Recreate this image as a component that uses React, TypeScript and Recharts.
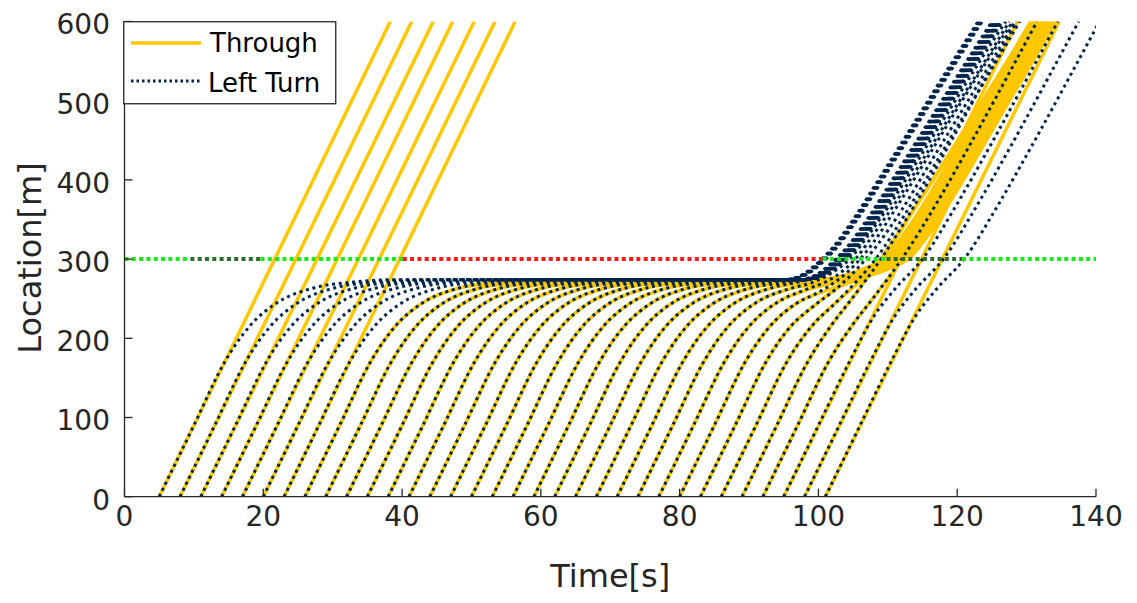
import { LineChart, Line, XAxis, YAxis } from "recharts";

const GOLD = "#FFC700";
const NAVY = "#00264D";
const INK = "#262626";
const FONT = "DejaVu Sans";
const phaseColors: Record<string, string> = { green: "#18EB18", overlap: "#2C6E2C", red: "#FF1A1A" };

// arrival times at location 0 (one through + one left-turn vehicle each)
const arrivals = [5, 8, 11, 14, 17, 20, 23, 26, 29, 32, 35, 38, 41, 44, 47, 50, 53, 56, 59, 62, 65, 68, 71, 74, 77, 80, 83, 86, 89, 92, 95, 98, 101];

// through vehicles that pass on the first green: time at 600 m
const throughFreeTop = [38.3, 41.4, 44.5, 47.3, 50.4, 53.4, 56.3];

// approach to the stop (time after arrival, location)
const approachDt = [0, 5, 9.5, 13, 17, 22, 28, 34];
const approachLoc = [0, 90, 171, 215, 245, 263, 271, 274];

// queued left turns: time they start moving again, then exit curve
const leftRelease = [95.0, 95.1, 95.2, 95.3, 95.4, 95.5, 95.6, 97.0, 97.1, 97.2, 97.3, 97.4, 97.5, 97.6, 97.7, 97.8, 97.9, 98.0, 98.1, 98.2, 98.3, 98.4, 98.5];
const leftExitDt = [0, 3, 5, 7, 10, 14, 19, 24, 28];
const leftExitLoc = [274, 282, 296, 314, 350, 405, 475, 545, 600];

// queued through vehicles (arrivals 26..74)
const throughRelease = [99.6, 99.8, 100.1, 100.3, 100.5, 100.7, 100.9, 101.2, 101.4, 101.6, 101.8, 102.1, 102.3, 102.5, 102.7, 102.9, 103.2];
const throughExitDt = [0, 4, 7, 10, 13, 17, 22, 27, 31];
const throughExitLoc = [274, 279, 288, 302, 335, 390, 465, 540, 600];

// late left turns (arrivals 74..101)
const leftLate: number[][][] = [
  [[74, 0], [79, 90], [83.5, 171], [87, 215], [91, 245], [96, 263], [99, 270], [102, 283], [104.5, 300], [107, 328], [110, 365], [114, 420], [119, 490], [124, 560], [127, 600]],
  [[77, 0], [82, 90], [86.5, 171], [90, 215], [94, 245], [98, 261], [101, 271], [103.5, 285], [105.5, 302], [108, 332], [111, 370], [115, 425], [120, 495], [124.5, 557], [127.5, 600]],
  [[80, 0], [85, 90], [89.5, 171], [93, 215], [97, 245], [100, 258], [103, 275], [105.5, 295], [108, 322], [111, 362], [115, 418], [120, 490], [124.5, 553], [128, 600]],
  [[83, 0], [88, 90], [92.5, 171], [96, 215], [99.5, 242], [102.5, 262], [105.5, 287], [108.5, 318], [112, 362], [116, 420], [121, 492], [125, 550], [128.3, 600]],
  [[86, 0], [91, 90], [95.5, 171], [99, 215], [102.5, 245], [105.5, 272], [108.5, 303], [112, 350], [116, 408], [121, 482], [126, 555], [129, 600]],
  [[89, 0], [94, 90], [98.5, 171], [102, 218], [105, 252], [109, 300], [114, 370], [119, 447], [124, 527], [128.5, 600]],
  [[92, 0], [97, 90], [101.5, 171], [105, 218], [108, 252], [112, 300], [117, 370], [122, 447], [127, 527], [131.5, 600]],
  [[95, 0], [100, 90], [104.5, 171], [108, 228], [111, 262], [115, 300], [120, 370], [125, 447], [130, 527], [134.5, 600]],
  [[98, 0], [103, 90], [107.5, 171], [111, 228], [114, 262], [118, 300], [123, 370], [128, 447], [133, 527], [137.5, 600]],
  [[101, 0], [106, 90], [110.5, 171], [114, 228], [117, 262], [121, 300], [126, 370], [131, 447], [136, 527], [140.5, 600]],
];

// late through vehicles (arrivals 77..101); the last three never stop
const throughLate: number[][][] = [
  [[77, 0], [82, 90], [86.5, 171], [90, 215], [94, 245], [99, 263], [103, 271], [107, 280], [110, 292], [113, 315], [116, 352], [120, 410], [125, 485], [130, 560], [133, 600]],
  [[80, 0], [85, 90], [89.5, 171], [93, 215], [97, 245], [101, 260], [105, 272], [108, 284], [111, 302], [114, 340], [118, 398], [123, 473], [128, 548], [131.5, 600]],
  [[83, 0], [88, 90], [92.5, 171], [96, 215], [99.5, 242], [102.5, 262], [106, 280], [109, 300], [114, 366], [119, 435], [124, 505], [130.8, 600]],
  [[86, 0], [91, 90], [95.5, 171], [99, 215], [102.5, 245], [105.5, 268], [108.5, 290], [111, 310], [115, 360], [120, 430], [125, 505], [131, 600]],
  [[89, 0], [94, 90], [98.5, 171], [102, 218], [105, 252], [109, 300], [114, 366], [119, 433], [124, 500], [131.6, 600]],
  [[92, 0], [97, 90], [101.5, 171], [105, 218], [108, 252], [112, 300], [117, 374], [122, 448], [127, 522], [132.3, 600]],
  [[95, 0], [128.7, 600]],
  [[98, 0], [131.7, 600]],
  [[101, 0], [134.7, 600]],
];

// signal at the stop line (300 m)
const signalLoc = 300;
const phaseStart = [0, 9.5, 19.6, 40.1, 100.6, 109.8, 120.7];
const phaseEnd = [9.5, 19.6, 40.1, 100.6, 109.8, 120.7, 140];
const phaseKind = ["green", "overlap", "green", "red", "green", "overlap", "green"];

const xTicks = [0, 20, 40, 60, 80, 100, 120, 140];
const yTicks = [0, 100, 200, 300, 400, 500, 600];

type Pt = { t: number; loc: number };

const shift = (dts: number[], locs: number[], t0: number): Pt[] =>
  dts.map((d, k) => ({ t: t0 + d, loc: locs[k] }));

const queued = (t0: number, release: number, exitDt: number[], exitLoc: number[]): Pt[] => [
  ...shift(approachDt, approachLoc, t0).filter((p) => p.t < release - 1),
  ...shift(exitDt, exitLoc, release),
];

const toPts = (rows: number[][]): Pt[] => rows.map(([t, loc]) => ({ t, loc }));

const throughPaths: Pt[][] = [
  ...throughFreeTop.map((top, k) => [{ t: arrivals[k], loc: 0 }, { t: top, loc: 600 }]),
  ...throughRelease.map((r, k) => queued(arrivals[k + 7], r, throughExitDt, throughExitLoc)),
  ...throughLate.map(toPts),
];

const leftPaths: Pt[][] = [
  ...leftRelease.map((r, k) => queued(arrivals[k], r, leftExitDt, leftExitLoc)),
  ...leftLate.map(toPts),
];

const signalPaths = phaseStart.map((s, k) => ({
  kind: phaseKind[k],
  pts: [{ t: s, loc: signalLoc }, { t: phaseEnd[k], loc: signalLoc }],
}));

const xLabel = (props: any) => {
  const vb = props.viewBox;
  return (
    <text x={vb.x + vb.width / 2} y={579} textAnchor="middle" fontSize={32} fontFamily={FONT} fill={INK}>
      Time[s]
    </text>
  );
};

const yLabel = () => (
  <text x={33} y={250} transform="rotate(-90 33 250)" textAnchor="middle" fontSize={32} fontFamily={FONT} fill={INK}>
    Location[m]
  </text>
);

function LegendBox() {
  return (
    <svg width={214} height={84} style={{ position: "absolute", left: 115, top: 13 }}>
      <rect x={0.75} y={0.75} width={212} height={82} fill="#fff" stroke={INK} strokeWidth={1.3} />
      <line x1={8} x2={78} y1={22} y2={22} stroke={GOLD} strokeWidth={3.5} />
      <text x={87} y={31} fontSize={26} fontFamily={FONT} fill="#000">Through</text>
      <line x1={8} x2={78} y1={60} y2={60} stroke={NAVY} strokeWidth={3} strokeDasharray="2.5 3" />
      <text x={85} y={71} fontSize={26} fontFamily={FONT} fill="#000">Left Turn</text>
    </svg>
  );
}

export default function App() {
  return (
    <div style={{ position: "relative", width: 1121, height: 595 }}>
      <LineChart width={1121} height={595} margin={{ top: 13.5, right: 33, bottom: 16, left: 56.5 }}>
        <XAxis
          type="number"
          dataKey="t"
          domain={[0, 140]}
          ticks={xTicks}
          interval={0}
          allowDataOverflow
          height={90.3}
          tickSize={-8}
          tickMargin={17}
          stroke={INK}
          strokeWidth={1.3}
          tick={{ fontSize: 28, fontFamily: FONT, fill: INK }}
          label={{ content: xLabel }}
        />
        <YAxis
          type="number"
          dataKey="loc"
          domain={[0, 600]}
          ticks={yTicks}
          interval={0}
          allowDataOverflow
          width={60}
          tickSize={-8}
          tickMargin={22.5}
          stroke={INK}
          strokeWidth={1.3}
          tick={{ fontSize: 28, fontFamily: FONT, fill: INK, dy: 3 }}
          label={{ content: yLabel }}
        />
        {throughPaths.map((pts, i) => (
          <Line
            key={"th" + i}
            data={pts}
            dataKey="loc"
            type={i < 7 ? "linear" : "monotone"}
            stroke={GOLD}
            strokeWidth={3.5}
            dot={false}
            activeDot={false}
            isAnimationActive={false}
          />
        ))}
        {leftPaths.map((pts, i) => (
          <Line
            key={"lt" + i}
            data={pts}
            dataKey="loc"
            type="monotone"
            stroke={NAVY}
            strokeWidth={3}
            strokeDasharray="3 3.7"
            dot={false}
            activeDot={false}
            isAnimationActive={false}
          />
        ))}
        {signalPaths.map((s, i) => (
          <Line
            key={"sg" + i}
            data={s.pts}
            dataKey="loc"
            type="linear"
            stroke={phaseColors[s.kind]}
            strokeWidth={4}
            strokeDasharray="4 3.3"
            dot={false}
            activeDot={false}
            isAnimationActive={false}
          />
        ))}
      </LineChart>
      <LegendBox />
    </div>
  );
}
